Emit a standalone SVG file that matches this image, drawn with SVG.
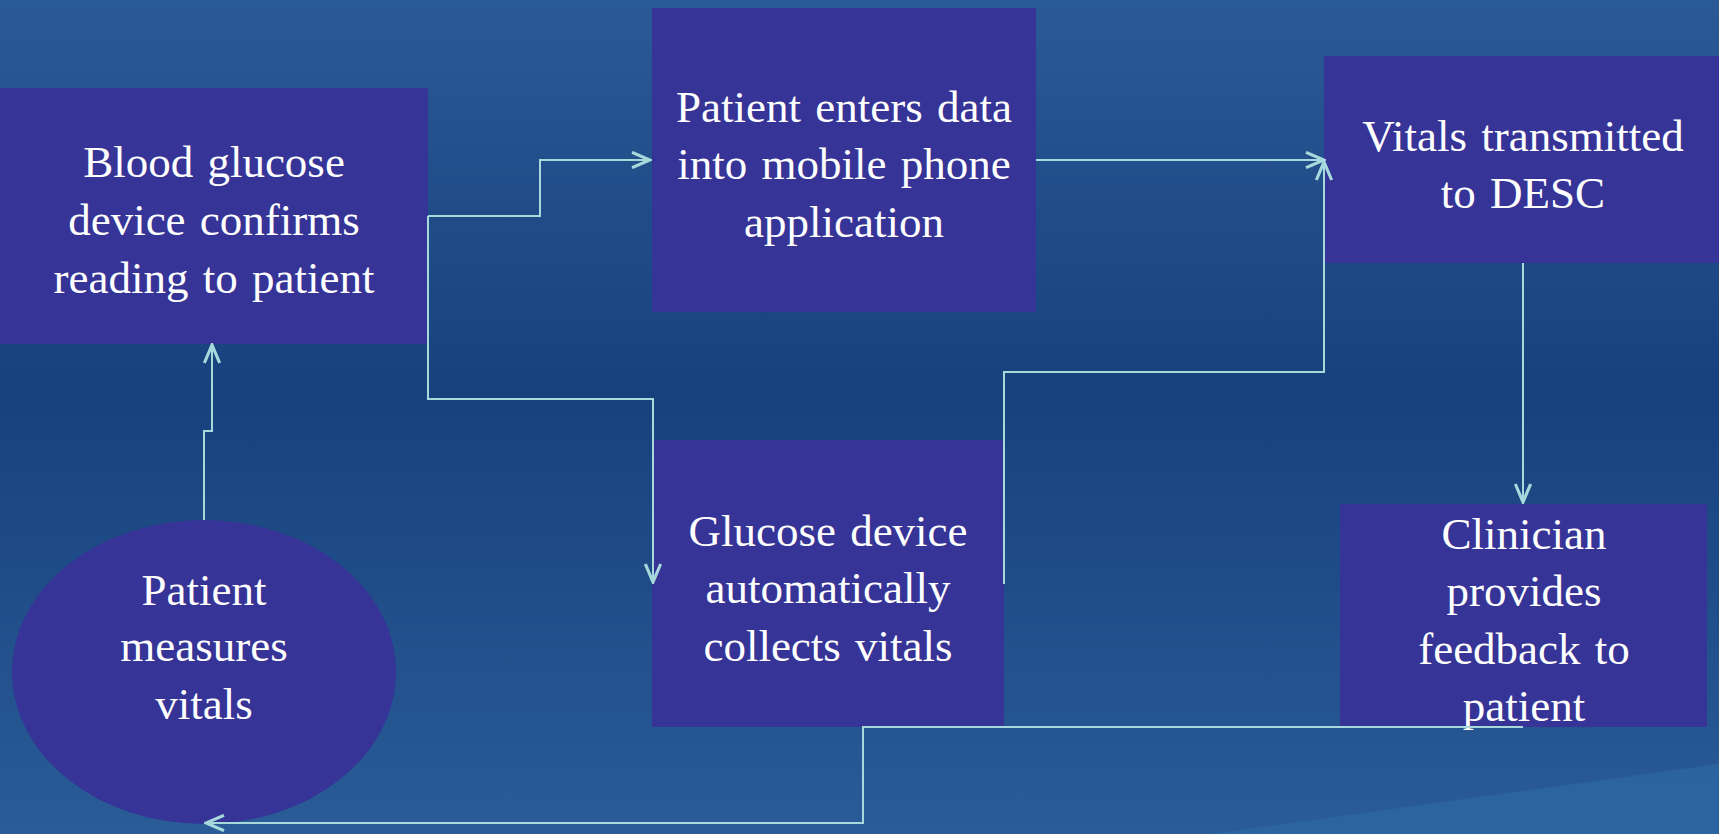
<svg xmlns="http://www.w3.org/2000/svg" width="1719" height="834" viewBox="0 0 1719 834">
  <style>
    .node { fill: #363497; }
    .label { font-family: "Liberation Serif", "Times New Roman", serif; font-size: 45px; fill: #ffffff; text-anchor: middle; word-spacing: 3px; }
    .conn { fill: none; stroke: #a6d8dc; stroke-width: 2; }
  </style>
  <defs>
    <linearGradient id="bg" x1="0" y1="0" x2="0" y2="1">
      <stop offset="0" stop-color="#2a5a96"/>
      <stop offset="0.47" stop-color="#17417c"/>
      <stop offset="1" stop-color="#2a5c98"/>
    </linearGradient>
    <marker id="arrow" viewBox="0 0 24 20" refX="22" refY="10" markerWidth="22" markerHeight="18" markerUnits="userSpaceOnUse" orient="auto">
      <path d="M2,1.5 L22,10 L2,18.5" fill="none" stroke="#a6d8dc" stroke-width="3.5"/>
    </marker>
  </defs>
  <rect x="0" y="0" width="1719" height="834" fill="url(#bg)"/>
  <polygon points="1210,834 1719,764 1719,834" fill="#2c66a0" opacity="0.8"/>

  <g id="node-confirm">
    <rect class="node" x="0" y="88" width="428" height="256"/>
    <text class="label" x="214" y="177">Blood glucose</text>
    <text class="label" x="214" y="235">device confirms</text>
    <text class="label" x="214" y="293">reading to patient</text>
  </g>
  <g id="node-enter">
    <rect class="node" x="652" y="8" width="384" height="304"/>
    <text class="label" x="844" y="122">Patient enters data</text>
    <text class="label" x="844" y="179">into mobile phone</text>
    <text class="label" x="844" y="237">application</text>
  </g>
  <g id="node-transmit">
    <rect class="node" x="1324" y="56" width="395" height="207"/>
    <text class="label" x="1523" y="151">Vitals transmitted</text>
    <text class="label" x="1523" y="208">to DESC</text>
  </g>
  <g id="node-collect">
    <rect class="node" x="652" y="440" width="352" height="287"/>
    <text class="label" x="828" y="546">Glucose device</text>
    <text class="label" x="828" y="603">automatically</text>
    <text class="label" x="828" y="661">collects vitals</text>
  </g>
  <g id="node-feedback">
    <rect class="node" x="1340" y="504" width="367" height="223"/>
    <text class="label" x="1524" y="549">Clinician</text>
    <text class="label" x="1524" y="606">provides</text>
    <text class="label" x="1524" y="664">feedback to</text>
    <text class="label" x="1524" y="721">patient</text>
  </g>
  <g id="node-measure">
    <ellipse class="node" cx="204" cy="672" rx="192" ry="152"/>
    <text class="label" x="204" y="605">Patient</text>
    <text class="label" x="204" y="661">measures</text>
    <text class="label" x="204" y="719">vitals</text>
  </g>

  <g id="connectors">
    <path class="conn" d="M428,216 H540 V160 H650" marker-end="url(#arrow)"/>
    <path class="conn" d="M428,216 V399 H653 V582" marker-end="url(#arrow)"/>
    <path class="conn" d="M204,520 V431 H212 V345" marker-end="url(#arrow)"/>
    <path class="conn" d="M1036,160 H1324" marker-end="url(#arrow)"/>
    <path class="conn" d="M1004,584 V372 H1324 V162" marker-end="url(#arrow)"/>
    <path class="conn" d="M1523,263 V502" marker-end="url(#arrow)"/>
    <path class="conn" d="M1523,727 H863 V823 H206" marker-end="url(#arrow)"/>
  </g>
</svg>
